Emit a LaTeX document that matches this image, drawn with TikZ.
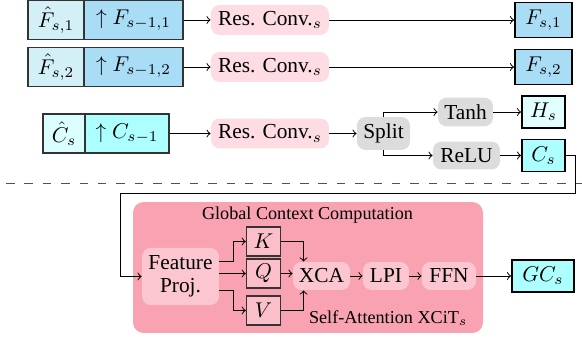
\documentclass[tikz,border=0pt]{standalone}
\usepackage{fontspec}
\setmainfont{Liberation Serif}
\usetikzlibrary{calc}
\definecolor{inA}{HTML}{D3F0F7}
\definecolor{inB}{HTML}{A9DDF6}
\definecolor{cA}{HTML}{DBFFFF}
\definecolor{cB}{HTML}{ADFFFF}
\definecolor{hcol}{HTML}{E2FFFF}
\definecolor{rcpink}{HTML}{FDDDE3}
\definecolor{graybox}{HTML}{DCDCDC}
\definecolor{bigpink}{HTML}{F9A2B2}
\definecolor{litepink}{HTML}{FCC6D0}
\definecolor{bordgray}{HTML}{333333}
\begin{document}
\begin{tikzpicture}[x=0.468pt,y=-0.468pt,
  inbox/.style={draw=bordgray,line width=0.6pt,inner sep=0pt,minimum height=18.3pt},
  outbox/.style={draw=black,line width=0.9pt,inner sep=0pt},
  rcbox/.style={fill=rcpink,rounded corners=4pt,inner sep=0pt,minimum width=55.2pt,minimum height=14pt},
  gbox/.style={fill=graybox,rounded corners=4pt,inner sep=0pt,minimum height=13.4pt},
  pbox/.style={fill=litepink,rounded corners=4pt,inner sep=0pt,minimum height=13.1pt},
  kqv/.style={draw=bordgray,line width=0.6pt,fill=litepink!80!bigpink,inner sep=0pt,minimum width=16pt,minimum height=13.6pt},
  labtext/.style={font=\fontsize{8.5}{10}\selectfont},
  arr/.style={->,line width=0.45pt}]
\useasboundingbox (0,0) rectangle (582,339);
% row 1
\node[inbox,fill=inA,minimum width=26.2pt] (fh1) at (56,20) {$\hat{F}_{s,1}$};
\node[inbox,fill=inB,minimum width=46.3pt] (up1) at (133.5,20) {$\uparrow F_{s-1,1}$};
\node[rcbox] (rc1) at (270,20) {Res. Conv.$_s$};
\node[outbox,fill=inB,minimum width=26.7pt,minimum height=16.4pt] (f1) at (543.5,20) {$F_{s,1}$};
\draw[arr] (up1) -- (rc1);
\draw[arr] (rc1) -- (f1);
% row 2
\node[inbox,fill=inA,minimum width=26.2pt] (fh2) at (56,67) {$\hat{F}_{s,2}$};
\node[inbox,fill=inB,minimum width=46.3pt] (up2) at (133.5,67) {$\uparrow F_{s-1,2}$};
\node[rcbox] (rc2) at (270,67) {Res. Conv.$_s$};
\node[outbox,fill=inB,minimum width=26.7pt,minimum height=16.4pt] (f2) at (543.5,67) {$F_{s,2}$};
\draw[arr] (up2) -- (rc2);
\draw[arr] (rc2) -- (f2);
% row 3
\node[inbox,fill=cA,minimum width=19.7pt] (ch) at (64,133.5) {$\hat{C}_s$};
\node[inbox,fill=cB,minimum width=39.3pt] (upc) at (127,133.5) {$\uparrow C_{s-1}$};
\node[rcbox] (rc3) at (270,133.5) {Res. Conv.$_s$};
\node[gbox,minimum width=24.8pt,minimum height=15.4pt] (split) at (383.5,133.5) {Split};
\node[gbox,minimum width=25.7pt] (tanh) at (465.5,112) {Tanh};
\node[gbox,minimum width=31.4pt,minimum height=13.1pt] (relu) at (466.5,155.5) {ReLU};
\node[outbox,fill=hcol,minimum width=20.1pt,minimum height=15pt] (hs) at (543.5,112) {$H_s$};
\node[outbox,fill=cB,minimum width=20.1pt,minimum height=15pt] (cs) at (543.5,155.5) {$C_s$};
\draw[arr] (upc) -- (rc3);
\draw[arr] (rc3) -- (split);
\draw[arr] (split.north) |- (tanh.west);
\draw[arr] (split.south) |- (relu.west);
\draw[arr] (tanh) -- (hs);
\draw[arr] (relu) -- (cs);
% dashed separator
\draw[line width=0.5pt,draw=bordgray!85!white,dash pattern=on 4pt off 4.6pt] (6,183.5) -- (582,183.5);
% global context block
\node[fill=bigpink,rounded corners=5pt,minimum width=163.8pt,minimum height=61.3pt,inner sep=0pt] (gcc) at (308,267.5) {};
\node[labtext] (gcct) at (307.5,215) {Global Context Computation};
\node[labtext,anchor=east] (sat) at (475,318) {Self-Attention XCiT$_s$};
\node[pbox,minimum width=36pt,minimum height=26.7pt,align=center] (fp) at (180.5,276.5) {Feature\\[-1pt]Proj.};
\node[kqv] (k) at (263.5,241.5) {$K$};
\node[kqv] (q) at (263.5,273.5) {$Q$};
\node[kqv] (v) at (263.5,310.5) {$V$};
\node[pbox,minimum width=26.7pt] (xca) at (321.5,276) {XCA};
\node[pbox,minimum width=21.5pt] (lpi) at (386,276) {LPI};
\node[pbox,minimum width=25.3pt] (ffn) at (449,276) {FFN};
\node[outbox,fill=cB,minimum width=29pt,minimum height=15pt] (gc) at (543,276) {$GC_s$};
\draw[arr] ([yshift=7pt]fp.east) -- ++(14,0) |- (k.west);
\draw[arr] (fp.east |- q.west) -- (q.west);
\draw[arr] ([yshift=-6.5pt]fp.east) -- ++(14,0) |- (v.west);
\draw[arr] (k.east) -| ([xshift=-8.4pt]xca.north);
\draw[arr] (v.east) -| ([xshift=-8.4pt]xca.south);
\draw[arr] (q.east) -- (xca.west |- q.east);
\draw[arr] (xca) -- (lpi);
\draw[arr] (lpi) -- (ffn);
\draw[arr] (ffn) -- (gc);
% loop from C_s to Feature Proj
\coordinate (lr) at (575,193);
\coordinate (ll) at (120,193);
\draw[arr] (cs.east) -| (lr) -- (ll) |- (fp.west);
\end{tikzpicture}
\end{document}
